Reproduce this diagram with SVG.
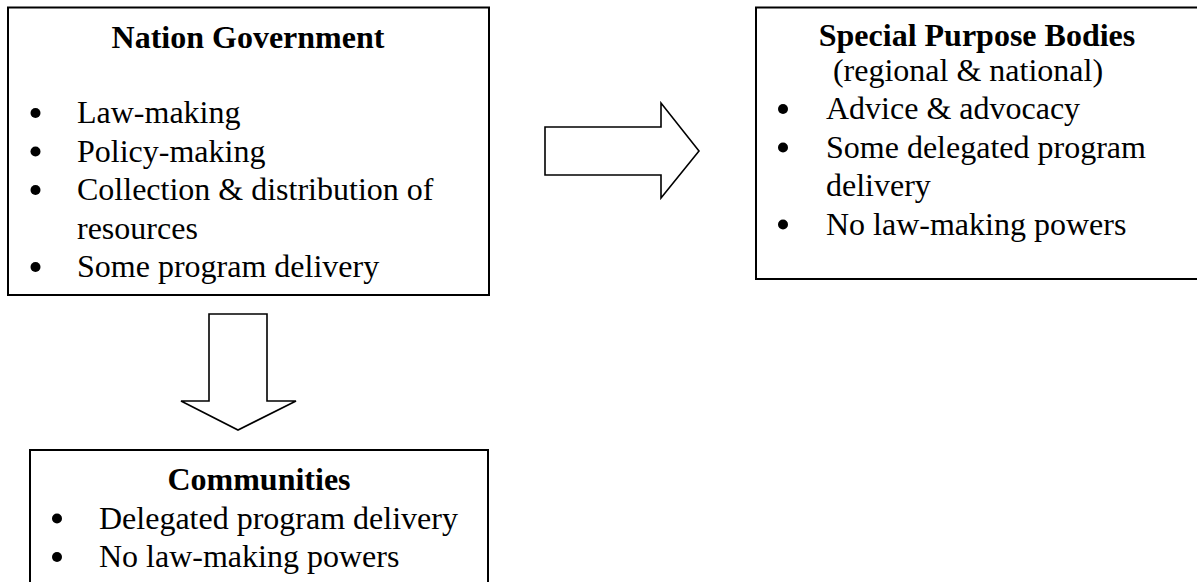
<svg xmlns="http://www.w3.org/2000/svg" width="1197" height="582" viewBox="0 0 1197 582">
  <style>
    .box { fill: #ffffff; stroke: #000000; stroke-width: 2; }
    .arrow { fill: #ffffff; stroke: #000000; stroke-width: 1.6; stroke-linejoin: miter; }
    .title { font-family: "Liberation Serif", "Times New Roman", serif; font-size: 32px; font-weight: bold; fill: #000000; text-anchor: middle; }
    .sub { font-family: "Liberation Serif", "Times New Roman", serif; font-size: 32px; fill: #000000; text-anchor: middle; }
    .item { font-family: "Liberation Serif", "Times New Roman", serif; font-size: 32px; fill: #000000; }
    .dot { fill: #000000; }
  </style>
  <rect width="1197" height="582" fill="#ffffff"/>

  <!-- connectors: block arrows -->
  <g id="connectors">
    <path class="arrow" d="M545,127 L661,127 L661,103 L699,151 L661,198 L661,175 L545,175 Z"/>
    <path class="arrow" d="M209,314 L267,314 L267,401 L296,401 L238,430 L181,401 L209,401 Z"/>
  </g>

  <!-- national government -->
  <g id="node-nation-government">
    <rect class="box" x="8" y="7.5" width="481" height="287.5"/>
    <text class="title" x="248" y="48">Nation Government</text>
    <circle class="dot" cx="35.5" cy="113" r="5"/>
    <text class="item" x="77" y="123">Law-making</text>
    <circle class="dot" cx="35.5" cy="151.5" r="5"/>
    <text class="item" x="77" y="161.5">Policy-making</text>
    <circle class="dot" cx="35.5" cy="190" r="5"/>
    <text class="item" x="77" y="200">Collection &amp; distribution of</text>
    <text class="item" x="77" y="238.5">resources</text>
    <circle class="dot" cx="35.5" cy="267" r="5"/>
    <text class="item" x="77" y="277">Some program delivery</text>
  </g>

  <!-- special purpose bodies -->
  <g id="node-special-purpose-bodies">
    <rect class="box" x="756" y="7.5" width="444" height="271.5"/>
    <text class="title" x="977" y="46">Special Purpose Bodies</text>
    <text class="sub" x="968" y="81">(regional &amp; national)</text>
    <circle class="dot" cx="783" cy="109" r="5"/>
    <text class="item" x="826" y="119">Advice &amp; advocacy</text>
    <circle class="dot" cx="783" cy="147.5" r="5"/>
    <text class="item" x="826" y="157.5">Some delegated program</text>
    <text class="item" x="826" y="196">delivery</text>
    <circle class="dot" cx="783" cy="224.5" r="5"/>
    <text class="item" x="826" y="234.5">No law-making powers</text>
  </g>

  <!-- communities -->
  <g id="node-communities">
    <rect class="box" x="30" y="450" width="458" height="140"/>
    <text class="title" x="259" y="490">Communities</text>
    <circle class="dot" cx="57" cy="518.5" r="5"/>
    <text class="item" x="99" y="528.5">Delegated program delivery</text>
    <circle class="dot" cx="57" cy="557" r="5"/>
    <text class="item" x="99" y="567">No law-making powers</text>
  </g>
</svg>
